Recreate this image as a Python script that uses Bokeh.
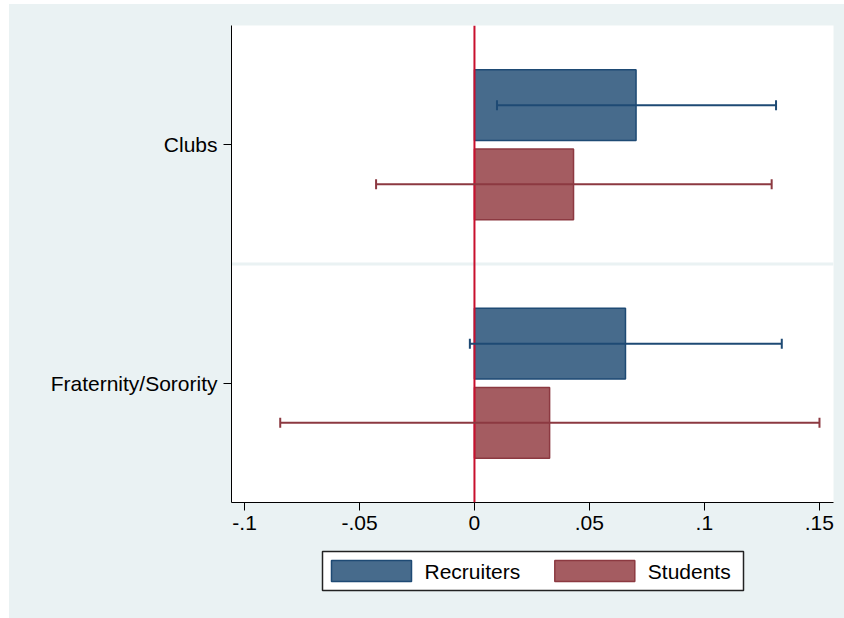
from bokeh.plotting import figure
from bokeh.models import Range1d, FixedTicker, Span, Whisker, ColumnDataSource, TeeHead, Spacer
from bokeh.core.properties import value
from bokeh.layouts import column, row
from bokeh.embed import file_html
from bokeh.resources import INLINE

# Estimated differences with 95% confidence intervals
categories = ["Clubs", "Fraternity/Sorority"]
series = ["Recruiters", "Students"]
recruiters_mean = [0.0703, 0.0657]
recruiters_lo = [0.0098, -0.0020]
recruiters_hi = [0.1312, 0.1337]
students_mean = [0.0431, 0.0327]
students_lo = [-0.0428, -0.0845]
students_hi = [0.1293, 0.1501]
x_ticks = [-0.1, -0.05, 0, 0.05, 0.1, 0.15]
x_tick_labels = ["-.1", "-.05", "0", ".05", ".1", ".15"]

FONT = "Liberation Sans"
BG = "#EAF2F3"
fills = ["#476B8C", "#A45C61"]
edges = ["#1E4A74", "#8C3941"]
offsets = [0.166, -0.166]
bar_h = 0.297

# first category at the top
cat_pos = [len(categories) - i for i in range(len(categories))]

p = figure(width=835, height=538, output_backend="svg", toolbar_location=None,
           x_range=Range1d(-0.1057, 0.1562), y_range=Range1d(0.5, 2.5),
           min_border_left=222, min_border_right=11, min_border_top=21,
           min_border_bottom=40)
p.background_fill_color = "white"
p.border_fill_color = BG
p.outline_line_color = None
p.xgrid.visible = False
p.ygrid.visible = False

# separator between the two groups
p.add_layout(Span(location=1.5, dimension="width", line_color=BG,
                  line_width=3, level="underlay"))

for k, (mean, lo, hi) in enumerate(zip([recruiters_mean, students_mean],
                                       [recruiters_lo, students_lo],
                                       [recruiters_hi, students_hi])):
    src = ColumnDataSource(dict(y=[c + offsets[k] for c in cat_pos],
                                mean=mean, lo=lo, hi=hi))
    p.hbar(y="y", left=0, right="mean", height=bar_h, source=src,
           fill_color=fills[k], line_color=edges[k], line_width=1.5)
    p.add_layout(Whisker(source=src, base="y", lower="lo", upper="hi",
                         dimension="width", line_color=edges[k], line_width=2,
                         level="overlay",
                         lower_head=TeeHead(size=10, line_color=edges[k], line_width=2),
                         upper_head=TeeHead(size=10, line_color=edges[k], line_width=2)))

# reference line at zero
p.add_layout(Span(location=0, dimension="height", line_color="#C8102E",
                  line_width=2, level="annotation"))

# axes
p.xaxis.ticker = FixedTicker(ticks=x_ticks)
p.xaxis.major_label_overrides = {t: l for t, l in zip(x_ticks, x_tick_labels)}
p.yaxis.ticker = FixedTicker(ticks=cat_pos)
p.yaxis.major_label_overrides = {c: n for c, n in zip(cat_pos, categories)}
for ax in (p.xaxis, p.yaxis):
    ax.axis_line_color = "black"
    ax.axis_line_width = 1
    ax.major_tick_line_color = "black"
    ax.major_tick_out = 8
    ax.major_tick_in = 0
    ax.minor_tick_line_color = None
    ax.major_label_text_font = FONT
    ax.major_label_text_font_size = "21px"
    ax.major_label_text_color = "black"
p.xaxis.major_label_standoff = 5
p.yaxis.major_label_standoff = 6

# legend strip below the chart, laid out in pixel units
leg = figure(width=835, height=76, output_backend="svg", toolbar_location=None,
             x_range=Range1d(0, 835), y_range=Range1d(76, 0),
             x_axis_location=None, y_axis_location=None, min_border=0)
leg.background_fill_color = BG
leg.border_fill_color = BG
leg.outline_line_color = None
leg.xgrid.visible = False
leg.ygrid.visible = False

box_left, box_top, box_w, box_h = 313, 9, 421, 39
pad, sw_w, sw_h, gap, item_step = 9, 80, 21, 13, 223.3
leg.quad(left=box_left, right=box_left + box_w, top=box_top, bottom=box_top + box_h,
         fill_color="white", line_color="#222222", line_width=1.5)
sw_left = [box_left + pad + i * item_step for i in range(len(series))]
leg.quad(left=sw_left, right=[x + sw_w for x in sw_left],
         top=box_top + pad, bottom=box_top + pad + sw_h,
         fill_color=fills, line_color=edges, line_width=1.5)
leg.text(x=[x + sw_w + gap for x in sw_left], y=box_top + box_h / 2, text=series,
         text_font=value(FONT), text_font_size="21px", text_baseline="middle",
         text_align="left", text_color="black")

white = {"background-color": "white"}
layout = column(
    Spacer(width=844, height=4, styles=white),
    row(Spacer(width=9, height=538, styles=white), p),
    row(Spacer(width=9, height=76, styles=white), leg),
    styles={"background-color": BG},
)
open("out.html", "w").write(file_html(layout, INLINE))
